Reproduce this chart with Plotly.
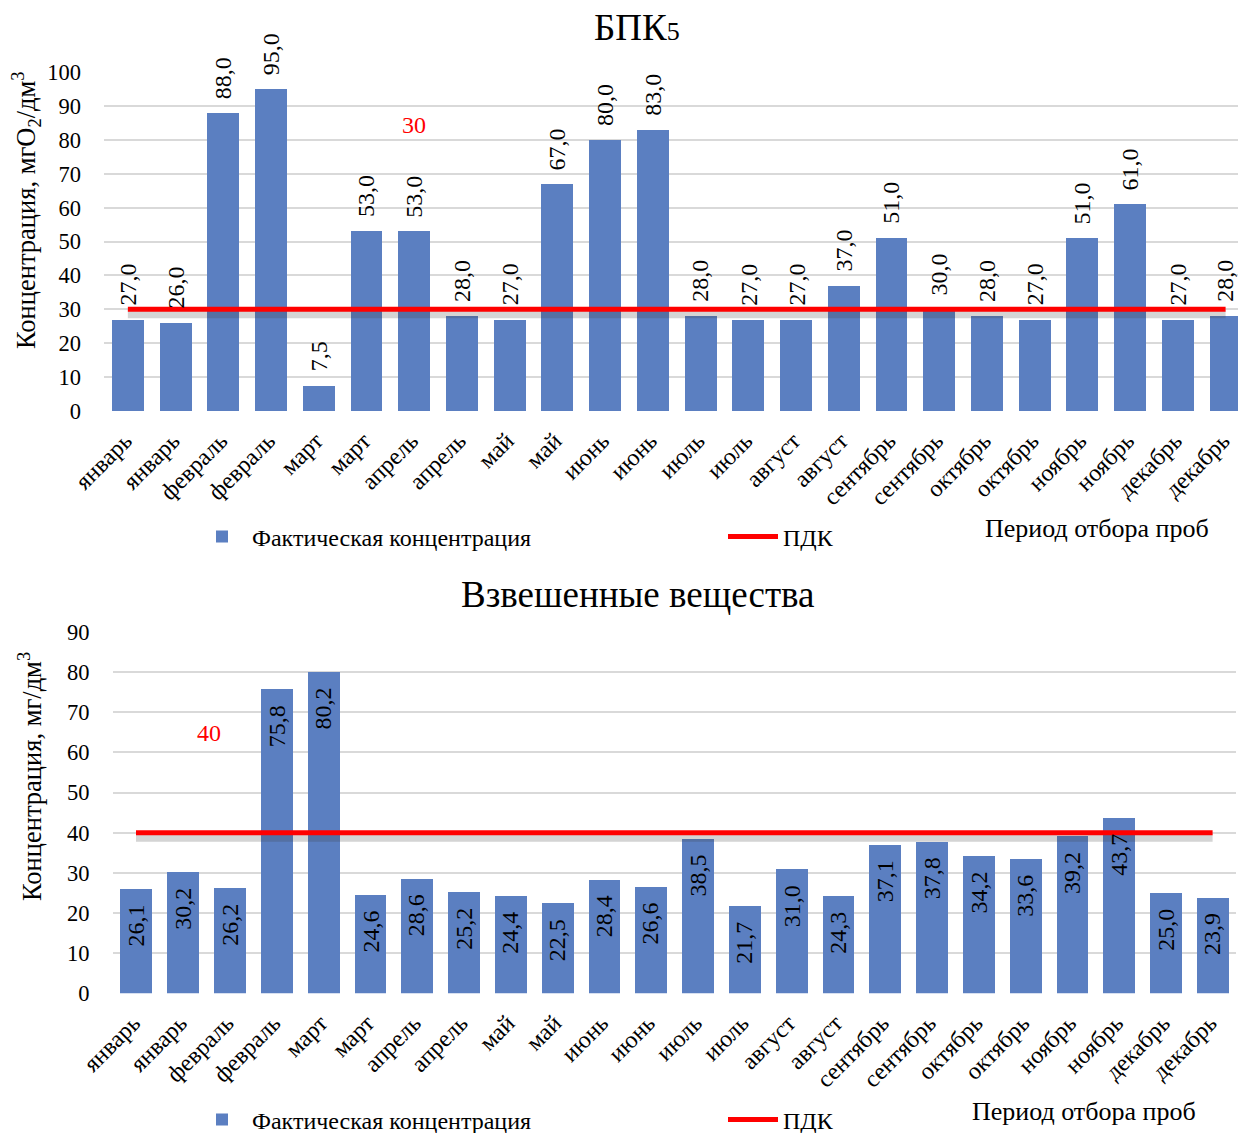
import plotly.graph_objects as go

# ---------------- data ----------------
months = ["январь", "январь", "февраль", "февраль", "март", "март", "апрель", "апрель",
          "май", "май", "июнь", "июнь", "июль", "июль", "август", "август",
          "сентябрь", "сентябрь", "октябрь", "октябрь", "ноябрь", "ноябрь",
          "декабрь", "декабрь"]

bpk_values = [27.0, 26.0, 88.0, 95.0, 7.5, 53.0, 53.0, 28.0, 27.0, 67.0, 80.0, 83.0,
              28.0, 27.0, 27.0, 37.0, 51.0, 30.0, 28.0, 27.0, 51.0, 61.0, 27.0, 28.0]
bpk_pdk = 30

vzv_values = [26.1, 30.2, 26.2, 75.8, 80.2, 24.6, 28.6, 25.2, 24.4, 22.5, 28.4, 26.6,
              38.5, 21.7, 31.0, 24.3, 37.1, 37.8, 34.2, 33.6, 39.2, 43.7, 25.0, 23.9]
vzv_pdk = 40

title_top = "БПК<span style='font-size:26px'>5</span>"
title_bottom = "Взвешенные вещества"
ytitle_top = "Концентрация, мгO<sub>2</sub>/дм<sup>3</sup>"
ytitle_bottom = "Концентрация, мг/дм<sup>3</sup>"
xtitle = "Период отбора проб"
name_bar = "Фактическая концентрация"
name_line = "ПДК"

# ---------------- styling ----------------
FONT = "Liberation Serif"
BAR = "#5b7fc1"
SHADOW = "rgba(60,60,60,0.22)"
W, H = 1238, 1133
LABEL_SHIFT = 0.06  # category labels sit a touch left of bar centres

xs = list(range(len(months)))
tick_pos = [x - LABEL_SHIFT for x in xs]

# pixel geometry of both plot areas
TOP_Y0, TOP_Y1, TOP_MAX = 411, 72, 100.05
BOT_Y0, BOT_Y1, BOT_MAX = 993.3, 631.7, 90.05
SHADOW_PX = 5
top_shift = SHADOW_PX * TOP_MAX / (TOP_Y0 - TOP_Y1)
bot_shift = SHADOW_PX * BOT_MAX / (BOT_Y0 - BOT_Y1)

def fmt(v):
    return f"{v:.1f}".replace(".", ",")

fig = go.Figure()

# ---- top chart
fig.add_trace(go.Bar(x=xs, y=bpk_values, marker=dict(color=BAR, line=dict(width=0)),
                     width=0.67, name=name_bar, xaxis="x", yaxis="y", legend="legend",
                     hoverinfo="y"))
fig.add_trace(go.Scatter(x=xs, y=[bpk_pdk] * len(xs), mode="lines",
                         line=dict(color=SHADOW, width=8), showlegend=False,
                         hoverinfo="skip", xaxis="x", yaxis="y3"))
fig.add_trace(go.Scatter(x=xs, y=[bpk_pdk] * len(xs), mode="lines",
                         line=dict(color="#ff0000", width=5), name=name_line,
                         xaxis="x", yaxis="y5", legend="legend2"))
# ---- bottom chart
fig.add_trace(go.Bar(x=xs, y=vzv_values, marker=dict(color=BAR, line=dict(width=0)),
                     width=0.68, name=name_bar, xaxis="x2", yaxis="y2", legend="legend3",
                     hoverinfo="y"))
fig.add_trace(go.Scatter(x=xs, y=[vzv_pdk] * len(xs), mode="lines",
                         line=dict(color=SHADOW, width=8), showlegend=False,
                         hoverinfo="skip", xaxis="x2", yaxis="y4"))
fig.add_trace(go.Scatter(x=xs, y=[vzv_pdk] * len(xs), mode="lines",
                         line=dict(color="#ff0000", width=5), name=name_line,
                         xaxis="x2", yaxis="y6", legend="legend4"))

LBL = dict(family=FONT, size=24, color="#000000")
annotations = []
# data labels top: outside end, rotated
for x, v in zip(xs, bpk_values):
    annotations.append(dict(x=x, y=v, xref="x", yref="y", text=fmt(v), showarrow=False,
                            textangle=-90, xanchor="center", yanchor="bottom", yshift=12,
                            font=LBL))
# data labels bottom: inside end, rotated
for x, v in zip(xs, vzv_values):
    annotations.append(dict(x=x, y=v, xref="x2", yref="y2", text=fmt(v), showarrow=False,
                            textangle=-90, xanchor="center", yanchor="top", yshift=-14,
                            font=LBL))
# PDK value labels
annotations.append(dict(x=6, y=84.4, xref="x", yref="y", text=str(bpk_pdk), showarrow=False,
                        xanchor="center", yanchor="middle",
                        font=dict(family=FONT, size=24, color="#ff0000")))
annotations.append(dict(x=1.55, y=64.8, xref="x2", yref="y2", text=str(vzv_pdk), showarrow=False,
                        xanchor="center", yanchor="middle",
                        font=dict(family=FONT, size=24, color="#ff0000")))

def paper_text(px, py, text, size, angle=0):
    return dict(x=px / W, y=1 - py / H, xref="paper", yref="paper", text=text,
                showarrow=False, textangle=angle, xanchor="center", yanchor="middle",
                font=dict(family=FONT, size=size, color="#000000"))

# titles
annotations.append(paper_text(637, 27, title_top, 37))
annotations.append(paper_text(638, 594, title_bottom, 37))
# axis titles
annotations.append(paper_text(26, 210, ytitle_top, 26.5, -90))
annotations.append(paper_text(30, 777, ytitle_bottom, 26.5, -90))
annotations.append(paper_text(1097, 528, xtitle, 26))
annotations.append(paper_text(1084, 1111, xtitle, 26))

axis_font = dict(family=FONT, size=22.5, color="#000000")
xcommon = dict(tickmode="array", tickvals=tick_pos, ticktext=months, tickangle=-45,
               showgrid=False, zeroline=False, showline=False, ticks="",
               tickfont=dict(family=FONT, size=24, color="#000000"),
               ticklabelstandoff=10, fixedrange=True, automargin=False)
ycommon = dict(showgrid=True, gridcolor="#d9d9d9", gridwidth=1.5, zeroline=False,
               showline=False, ticks="", tickfont=axis_font, dtick=10,
               ticklabelstandoff=22, fixedrange=True, automargin=False)
hidden = dict(visible=False, showgrid=False, zeroline=False, fixedrange=True, automargin=False)

legend_common = dict(orientation="h", xanchor="left", yanchor="middle",
                     font=dict(family=FONT, size=24, color="#000000"),
                     bgcolor="rgba(0,0,0,0)", itemwidth=50, borderwidth=0)

top_dom = [1 - TOP_Y0 / H, 1 - TOP_Y1 / H]
bot_dom = [1 - BOT_Y0 / H, 1 - BOT_Y1 / H]
TXT_OFF = 58  # distance from legend left edge to its text
fig.update_layout(
    width=W, height=H,
    margin=dict(l=0, r=0, t=0, b=0, autoexpand=False),
    paper_bgcolor="white", plot_bgcolor="white",
    font=dict(family=FONT, color="#000000"),
    separators=", ",
    showlegend=True,
    bargap=0,
    xaxis=dict(domain=[104 / W, 1.0], range=[-0.5, 23.26], anchor="y", **xcommon),
    yaxis=dict(domain=top_dom, range=[0, TOP_MAX], anchor="x", **ycommon),
    xaxis2=dict(domain=[112.6 / W, 1236 / W], range=[-0.5, 23.5], anchor="y2", **xcommon),
    yaxis2=dict(domain=bot_dom, range=[0, BOT_MAX], anchor="x2", **ycommon),
    # overlay axes: shadow (shifted a few pixels down) and the PDK line on top
    yaxis3=dict(overlaying="y", anchor="x", range=[top_shift, TOP_MAX + top_shift], **hidden),
    yaxis5=dict(overlaying="y", anchor="x", range=[0, TOP_MAX], **hidden),
    yaxis4=dict(overlaying="y2", anchor="x2", range=[bot_shift, BOT_MAX + bot_shift], **hidden),
    yaxis6=dict(overlaying="y2", anchor="x2", range=[0, BOT_MAX], **hidden),
    legend=dict(x=(250 - TXT_OFF) / W, y=1 - 537 / H, **legend_common),
    legend2=dict(x=(781 - TXT_OFF) / W, y=1 - 537 / H, **legend_common),
    legend3=dict(x=(250 - TXT_OFF) / W, y=1 - 1120 / H, **legend_common),
    legend4=dict(x=(781 - TXT_OFF) / W, y=1 - 1120 / H, **legend_common),
    annotations=annotations,
)

fig.write_html("out.html")
